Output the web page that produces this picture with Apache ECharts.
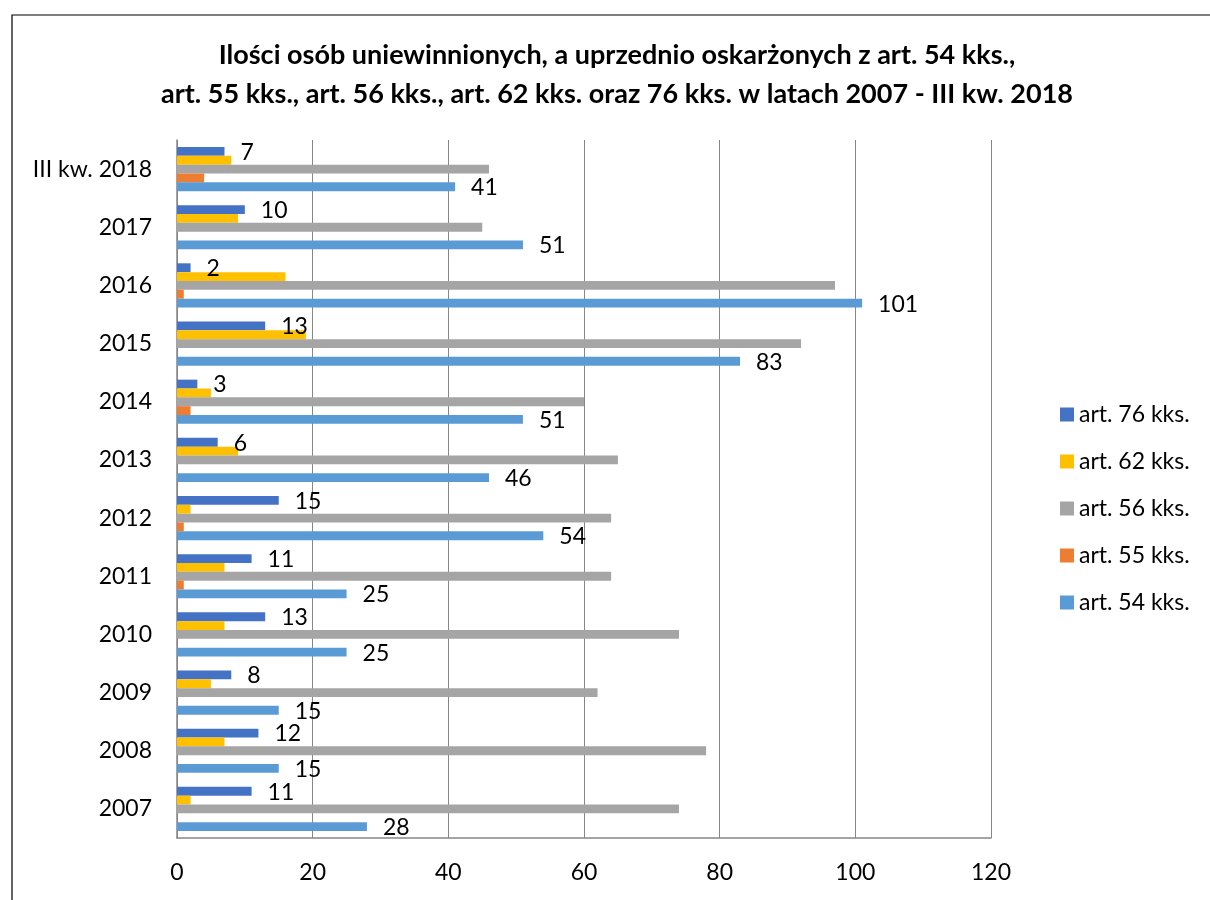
<!DOCTYPE html>
<html>
<head>
<meta charset="utf-8">
<script src="https://cdn.jsdelivr.net/npm/echarts@6/dist/echarts.min.js"></script>
<style>
    html, body { margin: 0; padding: 0; background: #fff; }
    #chart { width: 1210px; height: 900px; }
</style>
</head>
<body>
<div id="chart"></div>
<script>
// kategorie od dołu do góry
let years = ['2007', '2008', '2009', '2010', '2011', '2012', '2013', '2014', '2015', '2016', '2017', 'III kw. 2018']
let xTicks = [0, 20, 40, 60, 80, 100, 120]

let art76 = [11, 12, 8, 13, 11, 15, 6, 3, 13, 2, 10, 7]
let art62 = [2, 7, 5, 7, 7, 2, 9, 5, 19, 16, 9, 8]
let art56 = [74, 78, 62, 74, 64, 64, 65, 60, 92, 97, 45, 46]
let art55 = [0, 0, 0, 0, 1, 1, 0, 2, 0, 1, 0, 4]
let art54 = [28, 15, 15, 25, 25, 54, 46, 51, 83, 101, 51, 41]

let colors = ['#4472C4', '#FFC000', '#A5A5A5', '#ED7D31', '#5B9BD5']
let fontName = 'Lato'

function makeSeries(name, data, withLabel) {
    return {
        name: name,
        type: 'bar',
        data: data,
        barGap: '0%',
        barCategoryGap: '24%',
        label: {
            show: withLabel,
            position: 'right',
            distance: 16,
            offset: [0, 1],
            color: '#000',
            fontFamily: fontName,
            fontSize: 23
        }
    }
}

let chart = echarts.init(document.getElementById('chart'))
chart.setOption({
    animation: false,
    color: colors,
    textStyle: { fontFamily: fontName },
    title: {
        text: 'Ilości osób uniewinnionych, a uprzednio oskarżonych z art. 54 kks.,\nart. 55 kks., art. 56 kks., art. 62 kks. oraz 76 kks. w latach 2007 - III kw. 2018',
        left: 612,
        textAlign: 'center',
        top: 31,
        textStyle: {
            fontFamily: fontName,
            fontWeight: 'bold',
            fontSize: 27,
            lineHeight: 39,
            color: '#000'
        }
    },
    legend: {
        orient: 'vertical',
        left: 1055,
        top: 398,
        itemWidth: 14,
        itemHeight: 14,
        itemGap: 24,
        icon: 'rect',
        textStyle: { fontFamily: fontName, fontSize: 23, color: '#000' },
        data: ['art. 76 kks.', 'art. 62 kks.', 'art. 56 kks.', 'art. 55 kks.', 'art. 54 kks.']
    },
    grid: {
        left: 177,
        right: 219,
        top: 140,
        bottom: 62
    },
    xAxis: {
        type: 'value',
        min: xTicks[0],
        max: xTicks[xTicks.length - 1],
        interval: 20,
        axisLine: { show: true, lineStyle: { color: '#868686', width: 1.5 } },
        axisTick: { show: false },
        splitLine: { lineStyle: { color: '#868686', width: 1 } },
        axisLabel: { color: '#000', fontSize: 23, fontFamily: fontName, margin: 23 }
    },
    yAxis: {
        type: 'category',
        data: years,
        axisLine: { show: true, lineStyle: { color: '#868686', width: 1.5 } },
        axisTick: { show: false },
        axisLabel: { color: '#000', fontSize: 23, fontFamily: fontName, margin: 25 }
    },
    graphic: [{
        type: 'rect',
        shape: { x: 12, y: 15, width: 1220, height: 900 },
        style: { fill: 'none', stroke: '#000', lineWidth: 1.2 },
        silent: true
    }],
    series: [
        makeSeries('art. 76 kks.', art76, true),
        makeSeries('art. 62 kks.', art62, false),
        makeSeries('art. 56 kks.', art56, false),
        makeSeries('art. 55 kks.', art55, false),
        makeSeries('art. 54 kks.', art54, true)
    ]
})
</script>
</body>
</html>
